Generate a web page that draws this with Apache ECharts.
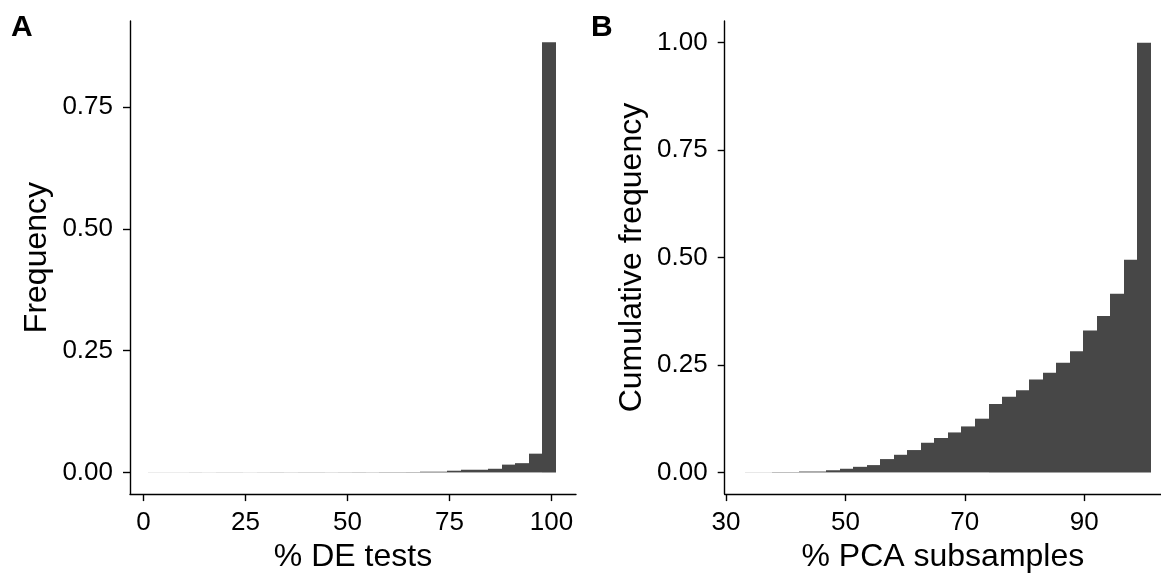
<!DOCTYPE html>
<html>
<head>
<meta charset="utf-8">
<script src="https://cdn.jsdelivr.net/npm/echarts@6/dist/echarts.min.js"></script>
<style>
  html, body { margin: 0; padding: 0; background: #fff; }
  #chart { width: 1161px; height: 578px; }
</style>
</head>
<body>
<div id="chart"></div>
<script>
// ---- Panel A: % DE tests histogram (30 bins) ----
const binStartA = 1.1;
const binWidthA = 3.333;
const freqA = [0.0002, 0.0002, 0.0002, 0.0003, 0.0002, 0.0003, 0.0003, 0.0002, 0.0003, 0.0004,
               0.0003, 0.0004, 0.0004, 0.0003, 0.0004, 0.0005, 0.0004, 0.0006, 0.0006, 0.0007,
               0.0015, 0.0015, 0.0035, 0.0055, 0.0055, 0.0075, 0.016, 0.019, 0.0385, 0.883];
const xTicksA = [0, 25, 50, 75, 100];
const yTicksA = [0, 0.25, 0.5, 0.75];

// ---- Panel B: % PCA subsamples cumulative histogram (30 bins) ----
const binStartB = 33.18;
const binWidthB = 2.266;
const cumFreqB = [0.0003, 0.0003, 0.0008, 0.0008, 0.002, 0.002, 0.005, 0.0085, 0.013, 0.017,
                  0.031, 0.041, 0.052, 0.069, 0.080, 0.093, 0.107, 0.125, 0.159, 0.176,
                  0.191, 0.216, 0.232, 0.255, 0.282, 0.330, 0.364, 0.416, 0.495, 1.0];
const xTicksB = [30, 50, 70, 90];
const yTicksB = [0, 0.25, 0.5, 0.75, 1.0];

function toBins(start, width, vals) {
  return vals.map((v, i) => [start + i * width, start + (i + 1) * width, v]);
}

const BAR = '#474747';
const FONT = 'Liberation Sans, Arial, sans-serif';

function renderBar(params, api) {
  const x0 = api.value(0), x1 = api.value(1), v = api.value(2);
  const p0 = api.coord([x0, v]);
  const p1 = api.coord([x1, 0]);
  const left = Math.round(p0[0]), right = Math.round(p1[0]);
  return {
    type: 'rect',
    shape: { x: left, y: p0[1], width: right - left, height: p1[1] - p0[1] },
    style: { fill: BAR }
  };
}

const axisLineStyle = { show: true, onZero: false, lineStyle: { color: '#000', width: 1.4 } };
const tickStyle = (vals) => ({ show: true, length: 7, lineStyle: { color: '#000', width: 1.4 }, customValues: vals });

function xAxisDef(gridIndex, min, max, ticks, name) {
  return {
    type: 'value', gridIndex, min, max,
    name, nameLocation: 'middle', nameGap: 46,
    nameTextStyle: { fontFamily: FONT, fontSize: 32, color: '#000' },
    axisLine: axisLineStyle,
    axisTick: tickStyle(ticks),
    axisLabel: { customValues: ticks, margin: 16, fontFamily: FONT, fontSize: 26, color: '#000',
                 formatter: v => String(Math.round(v)) },
    splitLine: { show: false }
  };
}
function yAxisDef(gridIndex, min, max, ticks, name) {
  return {
    type: 'value', gridIndex, min, max,
    name, nameLocation: 'middle', nameGap: 77,
    nameTextStyle: { fontFamily: FONT, fontSize: 32, color: '#000' },
    axisLine: axisLineStyle,
    axisTick: tickStyle(ticks),
    axisLabel: { customValues: ticks, margin: 17, fontFamily: FONT, fontSize: 26, color: '#000',
                 formatter: v => v.toFixed(2) },
    splitLine: { show: false }
  };
}

const chart = echarts.init(document.getElementById('chart'), null, { renderer: 'canvas' });
chart.setOption({
  backgroundColor: '#fff',
  animation: false,
  grid: [
    { left: 130, top: 21, width: 446, height: 480 },
    { left: 724.7, top: 21, width: 436.3, height: 480 }
  ],
  xAxis: [
    xAxisDef(0, -3.3, 106.0, xTicksA, '% DE tests'),
    xAxisDef(1, 29.78, 102.86, xTicksB, '% PCA subsamples')
  ],
  yAxis: [
    yAxisDef(0, -0.0445, 0.9266, yTicksA, 'Frequency'),
    yAxisDef(1, -0.0505, 1.0505, yTicksB, 'Cumulative frequency')
  ],
  series: [
    { type: 'custom', xAxisIndex: 0, yAxisIndex: 0, renderItem: renderBar,
      encode: { x: [0, 1], y: 2 }, data: toBins(binStartA, binWidthA, freqA) },
    { type: 'custom', xAxisIndex: 1, yAxisIndex: 1, renderItem: renderBar,
      encode: { x: [0, 1], y: 2 }, data: toBins(binStartB, binWidthB, cumFreqB) }
  ],
  graphic: [
    { type: 'text', left: 11, top: 13, style: { text: 'A', font: 'bold 30px ' + FONT, fill: '#000' } },
    { type: 'text', left: 591, top: 13, style: { text: 'B', font: 'bold 30px ' + FONT, fill: '#000' } }
  ]
});
</script>
</body>
</html>
